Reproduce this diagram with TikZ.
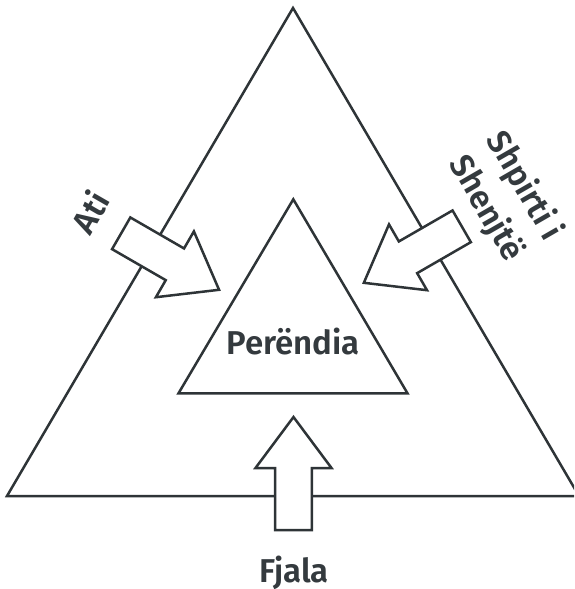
\documentclass[tikz,border=0pt]{standalone}
\usepackage{fontspec}
\setmainfont{Fira Sans}[BoldFont={Fira Sans SemiBold}]
\begin{document}
\begin{tikzpicture}[x=1pt,y=-1pt,
  line/.style={draw=lc, line width=2.5pt, line join=miter},
  lbl/.style={text=tc, font=\fontsize{33}{40}\selectfont\bfseries, inner sep=0pt},
  arrowshape/.style={line, fill=white}]
\definecolor{lc}{HTML}{2E3437}
\definecolor{tc}{HTML}{343A3E}
\useasboundingbox (0,0) rectangle (574,589);
\clip (0,0) rectangle (574,589);
\coordinate (oa) at (293,8);
\coordinate (ol) at (7,496);
\coordinate (or) at (579,496);
\coordinate (ia) at (293.3,199.3);
\coordinate (il) at (178.5,393.3);
\coordinate (ir) at (407.5,393.3);
\draw[line] (oa) -- (ol) -- (or) -- cycle;
\draw[line] (ia) -- (il) -- (ir) -- cycle;
\newcommand\myarrow[2]{%
  \begin{scope}[shift={#1}, rotate=#2]
    \draw[arrowshape] (0,-18.3) -- (62,-18.3) -- (62,-38) -- (113,0) -- (62,38) -- (62,18.3) -- (0,18.3) -- cycle;
  \end{scope}}
\myarrow{(121.2,233.3)}{-30}
\myarrow{(461.7,226.3)}{210}
\myarrow{(293.5,530)}{90}
\node[lbl, anchor=base] (god) at (293,354) {Perëndia};
\node[lbl, anchor=base] (word) at (294,582) {Fjala};
\node[lbl, rotate=60] (father) at (90,211.7) {Ati};
\node[lbl, rotate=-60, align=center, font=\fontsize{33}{44}\selectfont\bfseries] (spirit) at (505,197.5) {Shpirti i\\Shenjtë};
\end{tikzpicture}
\end{document}
